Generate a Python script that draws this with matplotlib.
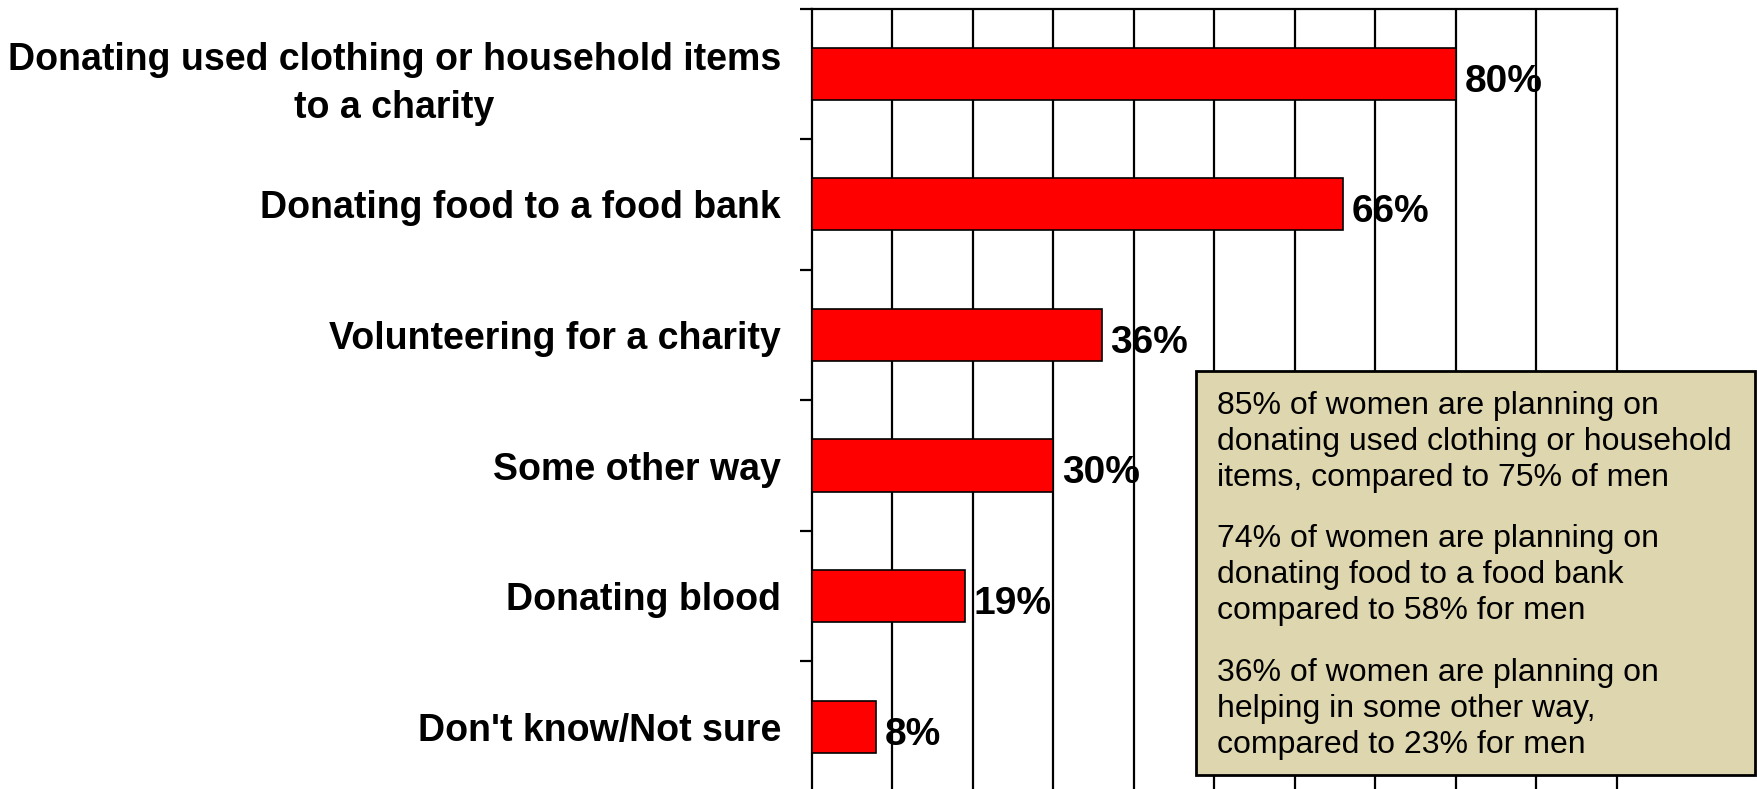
import matplotlib
matplotlib.use("Agg")
import matplotlib.pyplot as plt
from matplotlib.patches import Rectangle
import numpy as np

plt.rcParams["font.family"] = ["Liberation Sans", "DejaVu Sans"]

categories = [
    "Donating used clothing or household items\nto a charity",
    "Donating food to a food bank",
    "Volunteering for a charity",
    "Some other way",
    "Donating blood",
    "Don't know/Not sure",
]
values = [80, 66, 36, 30, 19, 8]

notes = [
    "85% of women are planning on\ndonating used clothing or household\nitems, compared to 75% of men",
    "74% of women are planning on\ndonating food to a food bank\ncompared to 58% for men",
    "36% of women are planning on\nhelping in some other way,\ncompared to 23% for men",
]

W, H = 1757, 789
fig = plt.figure(figsize=(W / 100, H / 100), dpi=100)
ax = fig.add_axes([811.7 / W, -3 / H, (1616.7 - 811.7) / W, (792 - 8.5) / H])

y = np.arange(len(categories))
ax.barh(y, values, height=0.40, color="#ff0000", edgecolor="black", linewidth=1.2, zorder=3)

for yi, v in zip(y, values):
    ax.text(v + 1.1, yi + 0.06, f"{v}%", va="center", ha="left", fontsize=28,
            fontweight="bold", zorder=4)

ax.set_xlim(0, 100)
ax.set_ylim(len(categories) - 0.5, -0.5)

ax.set_xticks(np.arange(10, 100, 10))
ax.tick_params(axis="x", length=0, labelbottom=False)
ax.xaxis.grid(True, color="black", linewidth=1.6, zorder=1)
ax.set_axisbelow(True)

ax.set_yticks(y)
ax.set_yticklabels(categories, fontsize=27, fontweight="bold")
ax.tick_params(axis="y", which="major", length=0, pad=22)
for lbl in ax.get_yticklabels():
    lbl.set_multialignment("center")
    lbl.set_linespacing(1.45)
ax.set_yticks(np.arange(-0.5, len(categories), 1), minor=True)
ax.tick_params(axis="y", which="minor", length=9, width=1.6, direction="out")

for side in ["left", "top", "right", "bottom"]:
    ax.spines[side].set_linewidth(1.6)

# note box on top of the grid
box = Rectangle((1196 / W, 1 - 775 / H), (1755 - 1196) / W, (775 - 371) / H,
                transform=fig.transFigure, facecolor="#ded6ae", edgecolor="black",
                linewidth=2, zorder=5)
fig.add_artist(box)
for i, note in enumerate(notes):
    top = [391, 524, 658][i]
    fig.text(1217 / W, 1 - top / H, note, fontsize=23, va="top", ha="left",
             linespacing=1.27, zorder=6)

fig.savefig("out.png", dpi=100)
